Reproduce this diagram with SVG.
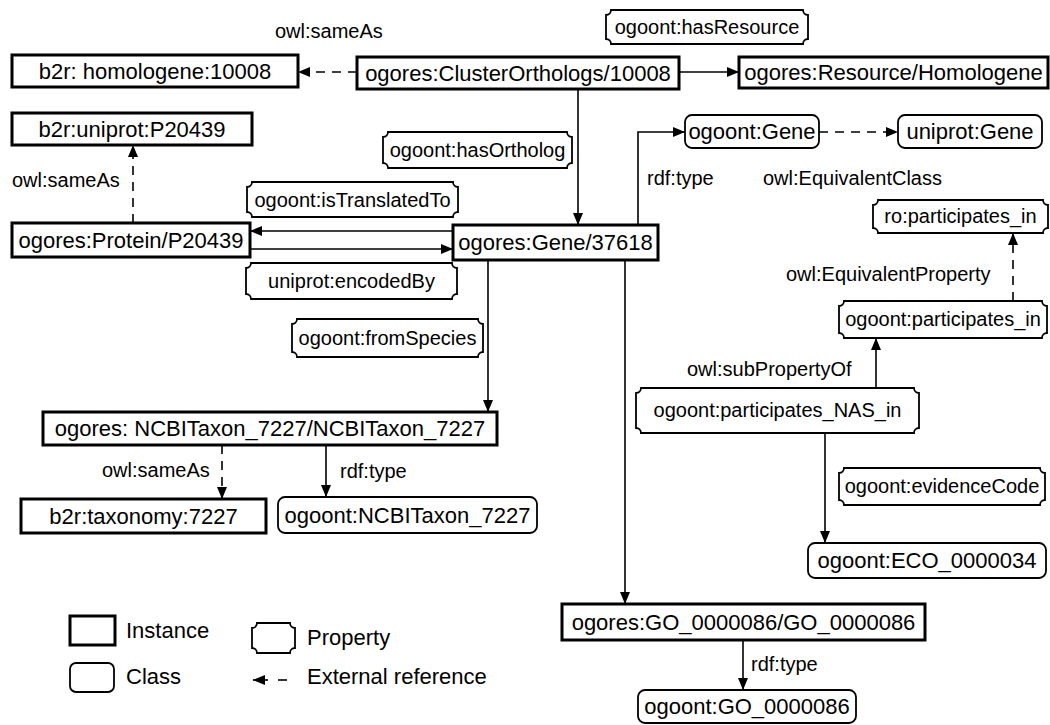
<svg xmlns="http://www.w3.org/2000/svg" width="1050" height="725" viewBox="0 0 1050 725">
<defs>
<style>
.inst{fill:#fff;stroke:#000;stroke-width:3}
.cls{fill:#fff;stroke:#000;stroke-width:1.8}
.prop{fill:#fff;stroke:#000;stroke-width:1.8}
text{font-family:"Liberation Sans",Arial,Helvetica,sans-serif;fill:#000}
.t22{font-size:22px;text-anchor:middle}
.t20{font-size:20px;text-anchor:middle}
.lbl{font-size:20px}
.leg{font-size:22px}
.edge{fill:none;stroke:#000;stroke-width:1.6;marker-end:url(#arr)}
.plain{fill:none;stroke:#000;stroke-width:1.6}
.dash{stroke-dasharray:9 7}
</style>
<marker id="arr" markerUnits="userSpaceOnUse" markerWidth="13" markerHeight="11" refX="12" refY="5" orient="auto">
<path d="M0,0 L12,5 L0,10 Z" fill="#000"/>
</marker>
</defs>
<rect width="1050" height="725" fill="#fff"/>

<g id="homologene"><rect class="inst" x="12" y="55" width="286" height="32"/><text class="t22" x="155" y="79">b2r: homologene:10008</text></g>
<g id="cluster"><rect class="inst" x="357" y="57" width="322" height="32"/><text class="t22" x="518" y="81">ogores:ClusterOrthologs/10008</text></g>
<g id="resource"><rect class="inst" x="739" y="57" width="309" height="31"/><text class="t22" x="893.5" y="80">ogores:Resource/Homologene</text></g>
<g id="uniprotP"><rect class="inst" x="12" y="113" width="240" height="32"/><text class="t22" x="132" y="137">b2r:uniprot:P20439</text></g>
<g id="protein"><rect class="inst" x="12" y="223" width="238" height="34"/><text class="t22" x="131" y="248">ogores:Protein/P20439</text></g>
<g id="gene"><rect class="inst" x="453" y="225" width="205" height="35"/><text class="t22" x="555.5" y="250">ogores:Gene/37618</text></g>
<g id="ncbi"><rect class="inst" x="43" y="412" width="454" height="33"/><text class="t22" x="270" y="436">ogores: NCBITaxon_7227/NCBITaxon_7227</text></g>
<g id="taxonomy"><rect class="inst" x="21" y="499" width="245" height="34"/><text class="t22" x="143.5" y="524">b2r:taxonomy:7227</text></g>
<g id="go"><rect class="inst" x="562" y="604" width="363" height="36"/><text class="t22" x="743.5" y="630">ogores:GO_0000086/GO_0000086</text></g>

<g id="ogoontGene"><rect class="cls" x="685" y="115" width="134" height="33" rx="7"/><text class="t22" x="752" y="139">ogoont:Gene</text></g>
<g id="uniprotGene"><rect class="cls" x="898" y="115" width="144" height="33" rx="7"/><text class="t22" x="970" y="139">uniprot:Gene</text></g>
<g id="ogoontNCBI"><rect class="cls" x="278" y="497" width="259" height="36" rx="7"/><text class="t22" x="407.5" y="523">ogoont:NCBITaxon_7227</text></g>
<g id="eco"><rect class="cls" x="808" y="543" width="238" height="35" rx="7"/><text class="t22" x="927" y="568">ogoont:ECO_0000034</text></g>
<g id="goClass"><rect class="cls" x="638" y="690" width="218" height="33" rx="7"/><text class="t22" x="747" y="714">ogoont:GO_0000086</text></g>

<g id="hasResource"><path class="prop" d="M611,10 H803 A5,5 0 0 0 808,15 V39 A5,5 0 0 0 803,44 H611 A5,5 0 0 0 606,39 V15 A5,5 0 0 0 611,10 Z"/><text class="t20" x="707" y="34">ogoont:hasResource</text></g>
<g id="hasOrtholog"><path class="prop" d="M388,132 H567 A5,5 0 0 0 572,137 V163 A5,5 0 0 0 567,168 H388 A5,5 0 0 0 383,163 V137 A5,5 0 0 0 388,132 Z"/><text class="t20" x="477.5" y="157">ogoont:hasOrtholog</text></g>
<g id="isTranslatedTo"><path class="prop" d="M252,182 H453 A5,5 0 0 0 458,187 V212 A5,5 0 0 0 453,217 H252 A5,5 0 0 0 247,212 V187 A5,5 0 0 0 252,182 Z"/><text class="t20" x="352.5" y="206.5">ogoont:isTranslatedTo</text></g>
<g id="encodedBy"><path class="prop" d="M251,263 H452 A5,5 0 0 0 457,268 V294 A5,5 0 0 0 452,299 H251 A5,5 0 0 0 246,294 V268 A5,5 0 0 0 251,263 Z"/><text class="t20" x="351.5" y="288">uniprot:encodedBy</text></g>
<g id="fromSpecies"><path class="prop" d="M297,319 H478 A5,5 0 0 0 483,324 V352 A5,5 0 0 0 478,357 H297 A5,5 0 0 0 292,352 V324 A5,5 0 0 0 297,319 Z"/><text class="t20" x="387.5" y="345">ogoont:fromSpecies</text></g>
<g id="roParticipates"><path class="prop" d="M878,200 H1043 A5,5 0 0 0 1048,205 V228 A5,5 0 0 0 1043,233 H878 A5,5 0 0 0 873,228 V205 A5,5 0 0 0 878,200 Z"/><text class="t20" x="960.5" y="223">ro:participates_in</text></g>
<g id="participates"><path class="prop" d="M844,301 H1042 A5,5 0 0 0 1047,306 V333 A5,5 0 0 0 1042,338 H844 A5,5 0 0 0 839,333 V306 A5,5 0 0 0 844,301 Z"/><text class="t20" x="943" y="326">ogoont:participates_in</text></g>
<g id="participatesNAS"><path class="prop" d="M641,388 H914 A5,5 0 0 0 919,393 V428 A5,5 0 0 0 914,433 H641 A5,5 0 0 0 636,428 V393 A5,5 0 0 0 641,388 Z"/><text class="t20" x="777.5" y="417">ogoont:participates_NAS_in</text></g>
<g id="evidenceCode"><path class="prop" d="M844,468 H1040 A5,5 0 0 0 1045,473 V500 A5,5 0 0 0 1040,505 H844 A5,5 0 0 0 839,500 V473 A5,5 0 0 0 844,468 Z"/><text class="t20" x="942" y="493">ogoont:evidenceCode</text></g>

<g id="connectors">
<path class="edge dash" d="M357,72 H298"/>
<path class="edge" d="M679,72 H739"/>
<path class="edge" d="M578,89 V225"/>
<path class="edge dash" d="M133,223 V145"/>
<path class="edge" d="M453,231 H250"/>
<path class="edge" d="M250,249 H453"/>
<path class="edge" d="M638,225 V132 H685"/>
<path class="edge dash" d="M819,132 H898"/>
<path class="edge" d="M625,260 V604"/>
<path class="edge" d="M488,260 V412"/>
<path class="edge dash" d="M222,445 V499"/>
<path class="edge" d="M326,445 V497"/>
<path class="edge" d="M743,640 V690"/>
<path class="edge" d="M876,388 V338"/>
<path class="edge dash" d="M1013,301 V233"/>
<path class="edge" d="M825,433 V543"/>
</g>

<g id="edgeLabels">
<text class="lbl" x="275" y="38">owl:sameAs</text>
<text class="lbl" x="12" y="187">owl:sameAs</text>
<text class="lbl" x="647" y="185">rdf:type</text>
<text class="lbl" x="763" y="185">owl:EquivalentClass</text>
<text class="lbl" x="786" y="281">owl:EquivalentProperty</text>
<text class="lbl" x="687" y="376">owl:subPropertyOf</text>
<text class="lbl" x="102" y="477">owl:sameAs</text>
<text class="lbl" x="340" y="478">rdf:type</text>
<text class="lbl" x="751" y="671">rdf:type</text>
</g>

<g id="legend">
<rect class="inst" x="70" y="616" width="45" height="29"/>
<text class="leg" x="126" y="638">Instance</text>
<rect class="cls" x="70" y="663" width="44" height="29" rx="6"/>
<text class="leg" x="126" y="684">Class</text>
<path class="prop" d="M257,623 H290 A5,5 0 0 0 295,628 V648 A5,5 0 0 0 290,653 H257 A5,5 0 0 0 252,648 V628 A5,5 0 0 0 257,623 Z"/>
<text class="leg" x="307" y="645">Property</text>
<path class="plain" d="M287,680 H278"/>
<path class="edge" d="M268,680 H253"/>
<text class="leg" x="307" y="684">External reference</text>
</g>
</svg>
